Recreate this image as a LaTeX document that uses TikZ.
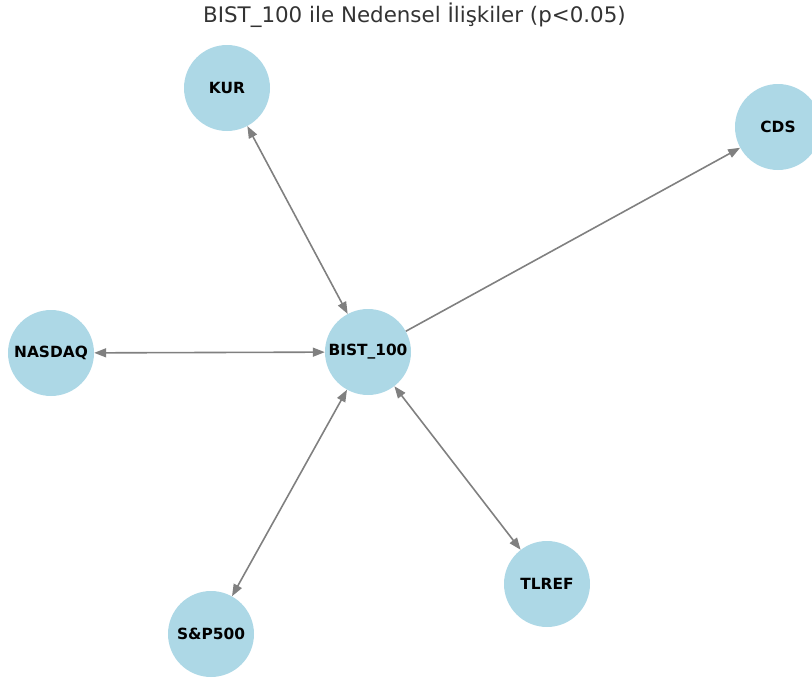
\documentclass[tikz,border=0pt]{standalone}
\usepackage{fontspec}
\setmainfont{DejaVu Sans}
\usetikzlibrary{arrows.meta}
\definecolor{nodeblue}{HTML}{ADD8E6}
\definecolor{edgegray}{HTML}{808080}
\definecolor{titlegray}{HTML}{333333}
\begin{document}
\begin{tikzpicture}[x=1pt,y=-1pt,
  vnode/.style={circle,fill=nodeblue,draw=none,minimum size=86pt,inner sep=0pt,font=\bfseries\fontsize{15.4}{17}\selectfont,text=black},
  edge/.style={draw=edgegray,line width=1.6pt,-{Triangle[length=12pt,width=9pt]}},
  bedge/.style={draw=edgegray,line width=1.6pt,{Triangle[length=12pt,width=9pt]}-{Triangle[length=12pt,width=9pt]}}]
\useasboundingbox (0,0) rectangle (812,680);
\node[font=\fontsize{21.4}{24}\selectfont,text=titlegray] (title) at (414.5,15) {BIST\_100 ile Nedensel İlişkiler (p<0.05)};
\node[vnode] (kur) at (227,88) {KUR};
\node[vnode] (cds) at (778,127) {CDS};
\node[vnode] (nasdaq) at (51,353) {NASDAQ};
\node[vnode] (bist) at (368,352) {BIST\_100};
\node[vnode] (tlref) at (547,584) {TLREF};
\node[vnode] (sp) at (211,634) {S\&P500};
\draw[bedge] (kur) -- (bist);
\draw[edge] (bist) -- (cds);
\draw[bedge] (nasdaq) -- (bist);
\draw[bedge] (sp) -- (bist);
\draw[bedge] (bist) -- (tlref);
\end{tikzpicture}
\end{document}
